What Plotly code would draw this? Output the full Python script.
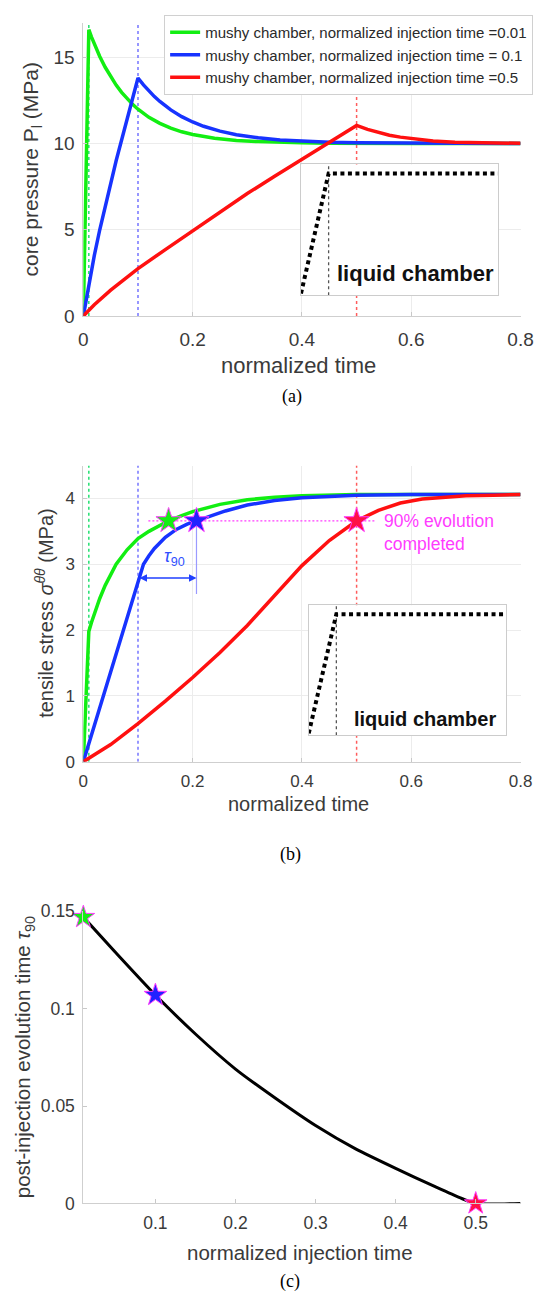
import plotly.graph_objects as go

W, H = 550, 1305


def fx(p):
    return p / W


def fy(p):
    return 1 - p / H


FONT = "Liberation Sans, Arial, sans-serif"
SERIF = "Liberation Serif, Times New Roman, serif"
GREEN, BLUE, RED = "#12ee12", "#1733ff", "#ff1010"
MAG = "#ff3cff"
TXT = "#3a3a3a"

# ---------------- data: panel (a) core pressure ----------------
inj_times = [0.01, 0.1, 0.5]
legend_names = ["mushy chamber, normalized injection time =0.01",
                "mushy chamber, normalized injection time = 0.1",
                "mushy chamber, normalized injection time =0.5"]

a_green_t = [0, 0.01, 0.015, 0.02, 0.03, 0.04, 0.05, 0.06, 0.07, 0.08, 0.09, 0.10, 0.12, 0.14,
             0.16, 0.18, 0.20, 0.24, 0.28, 0.32, 0.36, 0.40, 0.45, 0.50, 0.60, 0.70, 0.80]
a_green_p = [0, 16.6, 16.17, 15.78, 15.05, 14.42, 13.87, 13.39, 12.97, 12.60, 12.27, 11.99, 11.52, 11.17,
             10.89, 10.68, 10.52, 10.31, 10.18, 10.11, 10.06, 10.04, 10.02, 10.0, 10.0, 10.0, 10.0]

a_blue_t = [0, 0.01, 0.02, 0.03, 0.04, 0.05, 0.06, 0.07, 0.08, 0.09, 0.10, 0.11, 0.12, 0.13, 0.14,
            0.16, 0.18, 0.20, 0.22, 0.25, 0.28, 0.32, 0.36, 0.40, 0.45, 0.50, 0.60, 0.70, 0.80]
a_blue_p = [0, 1.9, 3.5, 5.0, 6.4, 7.7, 9.0, 10.2, 11.45, 12.65, 13.8, 13.4, 13.04, 12.72, 12.44,
            11.95, 11.56, 11.25, 11.0, 10.72, 10.51, 10.33, 10.21, 10.13, 10.07, 10.04, 10.01, 10.0, 10.0]

a_red_t = [0, 0.02, 0.05, 0.10, 0.15, 0.20, 0.25, 0.30, 0.35, 0.40, 0.45, 0.50,
           0.52, 0.54, 0.56, 0.58, 0.60, 0.64, 0.68, 0.72, 0.76, 0.80]
a_red_p = [0, 0.65, 1.5, 2.75, 3.85, 4.95, 6.05, 7.1, 8.1, 9.1, 10.1, 11.05,
           10.82, 10.63, 10.48, 10.37, 10.28, 10.15, 10.08, 10.04, 10.02, 10.01]

a_xticks = [0, 0.2, 0.4, 0.6, 0.8]
a_xticktext = ["0", "0.2", "0.4", "0.6", "0.8"]
a_yticks = [0, 5, 10, 15]
a_yrange = [0, 17]

# ---------------- data: panel (b) tensile stress ----------------
b_green_t = [0, 0.01, 0.015, 0.02, 0.03, 0.04, 0.05, 0.06, 0.08, 0.10, 0.12, 0.14, 0.156, 0.18,
             0.20, 0.25, 0.30, 0.35, 0.40, 0.50, 0.60, 0.80]
b_green_s = [0, 1.98, 2.12, 2.25, 2.48, 2.68, 2.85, 3.0, 3.22, 3.39, 3.5, 3.59, 3.66, 3.74,
             3.8, 3.91, 3.98, 4.02, 4.04, 4.06, 4.06, 4.06]

b_blue_t = [0, 0.02, 0.04, 0.06, 0.08, 0.10, 0.105, 0.11, 0.12, 0.13, 0.15, 0.17, 0.19, 0.207,
            0.23, 0.26, 0.30, 0.35, 0.40, 0.50, 0.60, 0.80]
b_blue_s = [0, 0.55, 1.1, 1.65, 2.2, 2.75, 2.9, 3.0, 3.13, 3.24, 3.41, 3.53, 3.61, 3.66,
            3.73, 3.81, 3.9, 3.97, 4.01, 4.05, 4.06, 4.06]

b_red_t = [0, 0.05, 0.10, 0.15, 0.20, 0.25, 0.30, 0.35, 0.40, 0.45, 0.50,
           0.54, 0.58, 0.62, 0.66, 0.70, 0.75, 0.80]
b_red_s = [0, 0.26, 0.58, 0.92, 1.28, 1.66, 2.07, 2.52, 2.98, 3.36, 3.66,
           3.82, 3.93, 3.99, 4.02, 4.04, 4.05, 4.06]

b_star_t = [0.156, 0.207, 0.5]        # times where 90% evolution reached
b_star_s = [3.66, 3.66, 3.66]
b_level_line_t = [0.119, 0.535]       # magenta 90% guide
b_level = 3.66
tau_arrow_level = 2.79
tau_drop_bottom = 2.55
b_yticks = [0, 1, 2, 3, 4]
b_yrange = [0, 4.5]

# ---------------- inset schematic ----------------
inset_ramp_t = [0, 0.14, 1.0]
inset_ramp_v = [0, 1, 1]
inset_inj_end = 0.14
inset_yrange = [-0.015, 1.075]

# ---------------- data: panel (c) tau90 ----------------
c_inj = [0.01, 0.05, 0.10, 0.15, 0.20, 0.25, 0.30, 0.35, 0.40, 0.45, 0.48, 0.50, 0.556]
c_tau = [0.147, 0.129, 0.107, 0.087, 0.069, 0.054, 0.040, 0.028, 0.018, 0.0085, 0.003, 0.0, 0.0]
c_star_x = [0.01, 0.1, 0.5]
c_star_y = [0.147, 0.107, 0.0]
c_xticks = [0.1, 0.2, 0.3, 0.4, 0.5]
c_yticks = [0, 0.05, 0.1, 0.15]
c_yticktext = ["0", "0.05", "0.1", "0.15"]

colors = [GREEN, BLUE, RED]
dash_colors = ["#22e070", "#7474ff", "#ff5c5c"]
star_fill = ["#14ee14", "#2222ff", "#ff1046"]

fig = go.Figure()

# ---- panel (a) ----
for t, c in zip(inj_times, dash_colors):
    fig.add_trace(go.Scatter(x=[t, t], y=a_yrange, mode="lines", xaxis="x", yaxis="y",
                             line=dict(color=c, width=1.5, dash="3px,3px"),
                             showlegend=False, hoverinfo="skip"))
for tt, pp, c, nm in zip([a_green_t, a_blue_t, a_red_t], [a_green_p, a_blue_p, a_red_p], colors, legend_names):
    fig.add_trace(go.Scatter(x=tt, y=pp, mode="lines", name=nm, xaxis="x", yaxis="y",
                             line=dict(color=c, width=3.5)))

# ---- panel (b) ----
for t, c in zip(inj_times, dash_colors):
    fig.add_trace(go.Scatter(x=[t, t], y=b_yrange, mode="lines", xaxis="x2", yaxis="y2",
                             line=dict(color=c, width=1.5, dash="3px,3px"),
                             showlegend=False, hoverinfo="skip"))
fig.add_trace(go.Scatter(x=b_level_line_t, y=[b_level, b_level], mode="lines", xaxis="x2", yaxis="y2",
                         line=dict(color=MAG, width=1.3, dash="2px,2px"), showlegend=False))
fig.add_trace(go.Scatter(x=[b_star_t[1], b_star_t[1]], y=[tau_drop_bottom, b_level], mode="lines",
                         xaxis="x2", yaxis="y2", line=dict(color="#9a9aff", width=1.2), showlegend=False))
for tt, ss, c in zip([b_green_t, b_blue_t, b_red_t], [b_green_s, b_blue_s, b_red_s], colors):
    fig.add_trace(go.Scatter(x=tt, y=ss, mode="lines", xaxis="x2", yaxis="y2",
                             line=dict(color=c, width=3.5), showlegend=False))
fig.add_trace(go.Scatter(x=b_star_t, y=b_star_s, mode="markers", xaxis="x2", yaxis="y2",
                         marker=dict(symbol="star", size=19, color=star_fill,
                                     line=dict(color=MAG, width=1)),
                         showlegend=False, cliponaxis=False))

# ---- insets ----
for xa, ya in [("x3", "y3"), ("x4", "y4")]:
    fig.add_trace(go.Scatter(x=[inset_inj_end, inset_inj_end], y=inset_yrange, mode="lines",
                             xaxis=xa, yaxis=ya, line=dict(color="#555555", width=1.3, dash="3px,3px"),
                             showlegend=False))
    fig.add_trace(go.Scatter(x=inset_ramp_t, y=inset_ramp_v, mode="lines", xaxis=xa, yaxis=ya,
                             line=dict(color="#000000", width=4, dash="4px,3.5px"),
                             showlegend=False, cliponaxis=False))

# ---- panel (c) ----
fig.add_trace(go.Scatter(x=c_inj, y=c_tau, mode="lines", xaxis="x5", yaxis="y5",
                         line=dict(color="#000000", width=3, shape="spline", smoothing=0.6),
                         showlegend=False, cliponaxis=False))
fig.add_trace(go.Scatter(x=c_star_x, y=c_star_y, mode="markers", xaxis="x5", yaxis="y5",
                         marker=dict(symbol="star", size=17, color=star_fill,
                                     line=dict(color=MAG, width=1)),
                         showlegend=False, cliponaxis=False))

axis_common = dict(showline=True, linecolor="#cfcfcf", linewidth=1, zeroline=False,
                   ticks="inside", ticklen=4, tickcolor="#c8c8c8",
                   gridcolor="#ececec", gridwidth=1)

XD = [fx(81), fx(533)]
layout = dict(
    width=W, height=H, margin=dict(l=0, r=0, t=0, b=0),
    paper_bgcolor="white", plot_bgcolor="white",
    font=dict(family=FONT, color=TXT),
    xaxis=dict(domain=XD, range=[0, 0.8], anchor="y", tickvals=a_xticks, ticktext=a_xticktext,
               showgrid=True, tickfont=dict(size=19), ticklabelstandoff=6, **axis_common),
    yaxis=dict(domain=[fy(311), fy(13)], range=a_yrange, anchor="x", tickvals=a_yticks,
               showgrid=True, tickfont=dict(size=19), ticklabelstandoff=4, **axis_common),
    xaxis2=dict(domain=XD, range=[0, 0.8], anchor="y2", tickvals=a_xticks, ticktext=a_xticktext,
                showgrid=True, tickfont=dict(size=17), ticklabelstandoff=4, **axis_common),
    yaxis2=dict(domain=[fy(764), fy(463)], range=b_yrange, anchor="x2", tickvals=b_yticks,
                showgrid=True, tickfont=dict(size=17), ticklabelstandoff=4, **axis_common),
    xaxis3=dict(domain=[fx(306), fx(510)], range=[0, 1], anchor="y3", showline=True, mirror=True,
                linecolor="#cccccc", showgrid=False, zeroline=False, showticklabels=False, ticks=""),
    yaxis3=dict(domain=[fy(290), fy(157)], range=inset_yrange, anchor="x3", showline=True, mirror=True,
                linecolor="#cccccc", showgrid=False, zeroline=False, showticklabels=False, ticks=""),
    xaxis4=dict(domain=[fx(314), fx(518)], range=[0, 1], anchor="y4", showline=True, mirror=True,
                linecolor="#cccccc", showgrid=False, zeroline=False, showticklabels=False, ticks=""),
    yaxis4=dict(domain=[fy(737), fy(605)], range=inset_yrange, anchor="x4", showline=True, mirror=True,
                linecolor="#cccccc", showgrid=False, zeroline=False, showticklabels=False, ticks=""),
    xaxis5=dict(domain=XD, range=[0.01, 0.556], anchor="y5", tickvals=c_xticks,
                showgrid=False, tickfont=dict(size=17.5), ticklabelstandoff=4, **axis_common),
    yaxis5=dict(domain=[fy(1213), fy(916)], range=[0, 0.15], anchor="x5", tickvals=c_yticks,
                ticktext=c_yticktext, showgrid=False, tickfont=dict(size=17.5), ticklabelstandoff=4,
                **axis_common),
    legend=dict(x=fx(546), xanchor="right", y=fy(5), yanchor="top", bgcolor="white",
                bordercolor="#d0d0d0", borderwidth=1, itemwidth=30,
                font=dict(size=15, color="#2a2a2a", family=FONT), tracegroupgap=0),
)
fig.update_layout(**layout)

ann = []


def paper_text(text, x, y, size, angle=0, family=FONT, color=TXT, xanchor="center"):
    ann.append(dict(text=text, x=fx(x), y=fy(y), xref="paper", yref="paper", showarrow=False,
                    textangle=angle, xanchor=xanchor, yanchor="middle",
                    font=dict(size=size, family=family, color=color)))


# axis titles
paper_text("core pressure P<sub>l</sub> (MPa)", 28, 162, 21, angle=-90)
paper_text("normalized time", 303, 361, 22)
paper_text("tensile stress <i>σ</i><sup><i>θθ</i></sup> (MPa)", 40, 613, 20, angle=-90)
paper_text("normalized time", 303, 807, 20)
paper_text("post-injection evolution time <i>τ</i><sub>90</sub>", 20, 1064, 20.5, angle=-90)
paper_text("normalized injection time", 305, 1263, 20.5)
# captions
paper_text("(a)", 297, 393, 18, family=SERIF, color="#000000")
paper_text("(b)", 295, 858, 18, family=SERIF, color="#000000")
paper_text("(c)", 295, 1292, 18, family=SERIF, color="#000000")

# inset labels
ann.append(dict(text="<b>liquid chamber</b>", x=0.99, y=0.17, xref="x3", yref="y3", showarrow=False,
                xanchor="right", yanchor="middle", font=dict(size=22, family=FONT, color="#111111")))
ann.append(dict(text="<b>liquid chamber</b>", x=0.96, y=0.12, xref="x4", yref="y4", showarrow=False,
                xanchor="right", yanchor="middle", font=dict(size=20, family=FONT, color="#111111")))

# panel (b) annotations
ann.append(dict(text="90% evolution<br>completed", x=0.547, y=3.49, xref="x2", yref="y2",
                showarrow=False, xanchor="left", yanchor="middle", align="left",
                font=dict(size=17.5, family=FONT, color=MAG)))
ann.append(dict(text="<i>τ</i><sub>90</sub>", x=0.166, y=3.1, xref="x2", yref="y2", showarrow=False,
                xanchor="center", yanchor="middle", font=dict(size=18, family=FONT, color="#3050ff")))
ann.append(dict(text="", x=b_star_t[1], y=tau_arrow_level, ax=inj_times[1], ay=tau_arrow_level,
                xref="x2", yref="y2", axref="x2", ayref="y2", showarrow=True, arrowside="end+start",
                arrowhead=2, arrowsize=1, arrowwidth=1.5, arrowcolor="#2040ff", standoff=0, startstandoff=0))

fig.update_layout(annotations=ann)
fig.write_html("out.html")
